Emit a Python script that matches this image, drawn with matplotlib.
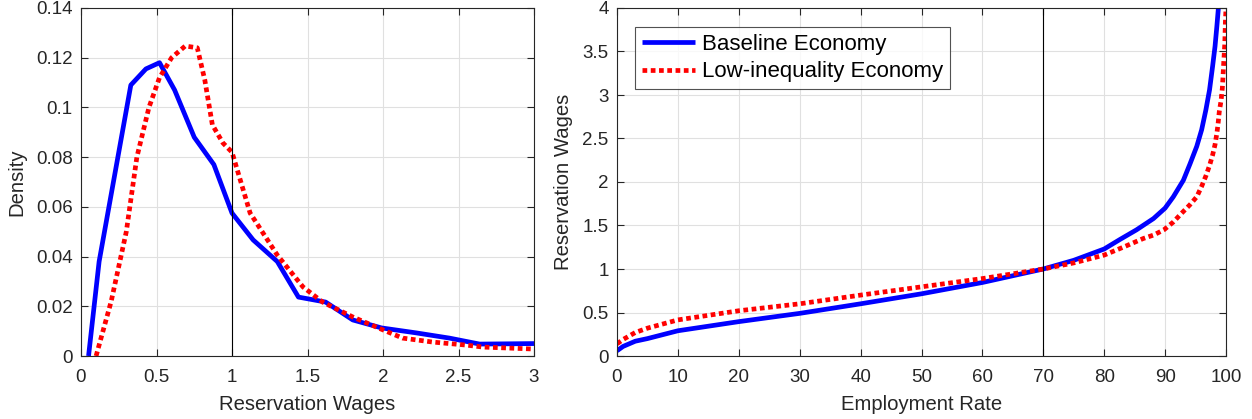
import matplotlib
matplotlib.use("Agg")
import matplotlib.pyplot as plt
from matplotlib.ticker import FuncFormatter

plt.rcParams['font.family'] = ['Liberation Sans', 'DejaVu Sans']

# ---- Left panel: density of reservation wages ----
base_w = [0.05, 0.12, 0.33, 0.43, 0.52, 0.62, 0.75, 0.88, 1.0, 1.14, 1.30, 1.44,
          1.62, 1.80, 1.99, 2.22, 2.44, 2.64, 3.0]
base_d = [0.0, 0.038, 0.109, 0.1155, 0.118, 0.107, 0.088, 0.077, 0.0575, 0.0467,
          0.038, 0.0237, 0.0217, 0.0145, 0.0113, 0.0093, 0.0072, 0.0048, 0.005]
low_w = [0.10, 0.20, 0.30, 0.37, 0.45, 0.52, 0.60, 0.69, 0.77, 0.82, 0.87, 0.94,
         1.0, 1.12, 1.30, 1.47, 1.60, 1.80, 2.0, 2.13, 2.33, 2.55, 2.66, 3.0]
low_d = [0.0, 0.022, 0.05, 0.08, 0.10, 0.112, 0.12, 0.1247, 0.124, 0.111, 0.093,
         0.0857, 0.082, 0.0575, 0.0406, 0.0278, 0.0217, 0.0157, 0.0105, 0.0072,
         0.0056, 0.0044, 0.0036, 0.0028]

# ---- Right panel: reservation wages vs employment rate ----
base_e = [0, 1, 3, 5, 10, 20, 30, 40, 50, 60, 70, 75, 80, 82.6, 85.3, 88.1, 90,
          91.35, 93.0, 94.1, 95.2, 96.0, 96.7, 97.3, 97.8, 98.2, 98.5, 98.75]
base_r = [0.06, 0.11, 0.17, 0.20, 0.29, 0.395, 0.49, 0.60, 0.715, 0.845, 1.0, 1.1,
          1.23, 1.34, 1.45, 1.58, 1.70, 1.83, 2.02, 2.21, 2.41, 2.60, 2.83, 3.06,
          3.33, 3.56, 3.79, 4.0]
low_e = [0, 1, 3, 5, 10, 20, 30, 40, 50, 60, 70, 75, 80, 83.1, 86.4, 88.1, 89.8,
         91.35, 92.7, 94.1, 95.2, 96.0, 96.7, 97.3, 97.8, 98.2, 98.5, 98.7, 98.9,
         99.2, 99.4, 99.5, 99.6, 99.7, 99.8, 99.9, 100]
low_r = [0.14, 0.19, 0.27, 0.32, 0.415, 0.52, 0.60, 0.70, 0.795, 0.89, 1.0, 1.07,
         1.16, 1.25, 1.35, 1.39, 1.45, 1.54, 1.64, 1.74, 1.83, 1.95, 2.07, 2.19,
         2.31, 2.43, 2.56, 2.67, 2.81, 2.94, 3.08, 3.20, 3.34, 3.46, 3.59, 3.84,
         4.0]

labels = ['Baseline Economy', 'Low-inequality Economy']

fig = plt.figure(figsize=(12.52, 4.19), dpi=100)
axL = fig.add_axes([81/1252, 1-356/419, (534-81)/1252, 348/419])
axR = fig.add_axes([617/1252, 1-356/419, (1226-617)/1252, 348/419])

blue_kw = dict(color='#0000ff', lw=3.4, solid_capstyle='butt', solid_joinstyle='round')
red_kw = dict(color='#ff0000', lw=3.4, linestyle=(0, (1.0, 0.75)), dash_capstyle='butt')

fmt = FuncFormatter(lambda v, p: ('%g' % round(v, 4)))

def style(ax):
    ax.grid(True, color='#e0e0e0', lw=0.8)
    ax.set_axisbelow(True)
    for s in ax.spines.values():
        s.set_color('#262626')
        s.set_linewidth(0.8)
    ax.tick_params(direction='in', top=True, right=True, length=5, width=0.8,
                   colors='#262626', labelsize=13.5, labelcolor='#262626')
    ax.tick_params(axis='x', pad=9.5)
    ax.tick_params(axis='y', pad=6)
    ax.xaxis.set_major_formatter(fmt)
    ax.yaxis.set_major_formatter(fmt)

axL.plot(base_w, base_d, **blue_kw)
axL.plot(low_w, low_d, **red_kw)
axL.axvline(1.0, color='black', lw=0.8)
axL.set_xlim(0, 3)
axL.set_ylim(0, 0.14)
axL.set_xticks([0, 0.5, 1, 1.5, 2, 2.5, 3])
axL.set_yticks([0, 0.02, 0.04, 0.06, 0.08, 0.1, 0.12, 0.14])
axL.set_xlabel('Reservation Wages', fontsize=14.6, color='#262626', labelpad=6)
axL.set_ylabel('Density', fontsize=14.6, color='#262626', labelpad=7)
style(axL)

axR.plot(base_e, base_r, label=labels[0], **blue_kw)
axR.plot(low_e, low_r, label=labels[1], **red_kw)
axR.axvline(70, color='black', lw=0.8)
axR.set_xlim(0, 100)
axR.set_ylim(0, 4)
axR.set_xticks(range(0, 101, 10))
axR.set_yticks([0, 0.5, 1, 1.5, 2, 2.5, 3, 3.5, 4])
axR.set_xlabel('Employment Rate', fontsize=14.6, color='#262626', labelpad=6)
axR.set_ylabel('Reservation Wages', fontsize=14.6, color='#262626', labelpad=7)
style(axR)
leg = axR.legend(loc='upper left', bbox_to_anchor=(0.03, 0.945), fontsize=16,
                 frameon=True, fancybox=False, edgecolor='#262626',
                 handlelength=2.4, handletextpad=0.3, borderpad=0.3,
                 labelspacing=0.3, borderaxespad=0)
leg.get_frame().set_linewidth(0.8)

fig.savefig('out.png', dpi=100)
